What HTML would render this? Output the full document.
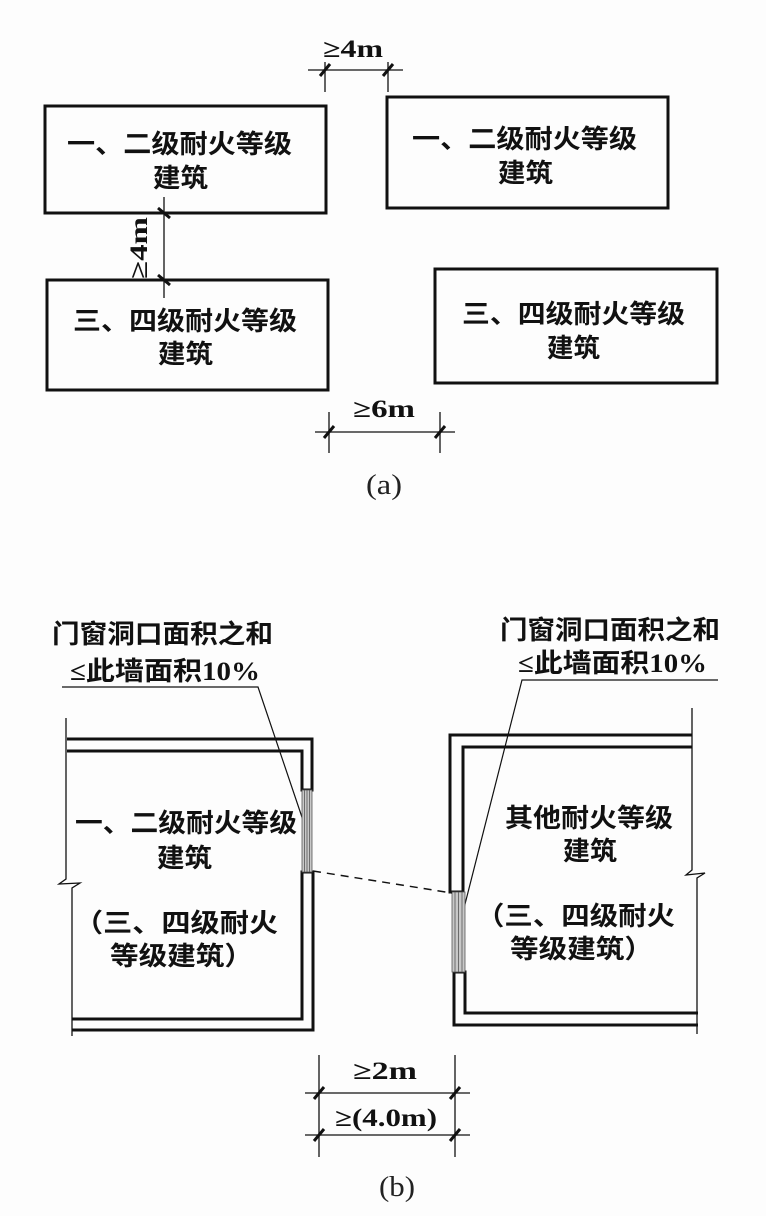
<!DOCTYPE html>
<html>
<head>
<meta charset="utf-8">
<style>
html,body{margin:0;padding:0;background:#fdfdfd;}
svg{display:block;}
.cj{font-family:"Liberation Sans","Noto Sans CJK SC",sans-serif;font-size:26px;font-weight:bold;fill:#111;}
.lb{font-family:"Liberation Serif","Noto Sans CJK SC",sans-serif;font-size:26px;font-weight:bold;fill:#111;}
.dm{font-family:"Liberation Serif","Noto Serif CJK SC",serif;font-size:25px;font-weight:bold;fill:#111;}
.cap{font-family:"Liberation Serif",serif;font-size:28px;fill:#222;}
</style>
</head>
<body>
<svg width="766" height="1216" viewBox="0 0 766 1216" xmlns="http://www.w3.org/2000/svg">
<g fill="none" stroke="#111">
  <!-- (a) boxes -->
  <rect x="45" y="106" width="281" height="107" stroke-width="3"/>
  <rect x="47" y="280" width="281" height="110" stroke-width="3"/>
  <rect x="387" y="97" width="281" height="111" stroke-width="3"/>
  <rect x="435" y="269" width="282" height="114" stroke-width="3"/>

  <!-- top dim -->
  <line x1="308" y1="70" x2="403" y2="70" stroke-width="1.3"/>
  <line x1="325" y1="62" x2="325" y2="92" stroke-width="1.3"/>
  <line x1="388" y1="62" x2="388" y2="92" stroke-width="1.3"/>
  <line x1="320" y1="76" x2="330" y2="64" stroke-width="3"/>
  <line x1="383" y1="76" x2="393" y2="64" stroke-width="3"/>

  <!-- vertical dim -->
  <line x1="164" y1="197" x2="164" y2="298" stroke-width="1.3"/>
  <line x1="158" y1="208" x2="170" y2="218" stroke-width="3"/>
  <line x1="158" y1="275" x2="170" y2="285" stroke-width="3"/>

  <!-- bottom dim (a) -->
  <line x1="315" y1="432" x2="455" y2="432" stroke-width="1.3"/>
  <line x1="329" y1="412" x2="329" y2="453" stroke-width="1.3"/>
  <line x1="440" y1="412" x2="440" y2="453" stroke-width="1.3"/>
  <line x1="324" y1="438" x2="334" y2="426" stroke-width="3"/>
  <line x1="435" y1="438" x2="445" y2="426" stroke-width="3"/>

  <!-- (b) leaders -->
  <polyline points="62,687 258,687 308,835" stroke-width="1.2"/>
  <polyline points="718,680 522,680 463,912" stroke-width="1.2"/>

  <!-- left building -->
  <path d="M67 739 H312 V790 H302 V751 H67" stroke-width="3"/>
  <path d="M72 1030 H313 V872 H302 V1019 H72" stroke-width="3"/>
  <path d="M66 718 V879 L59 884 L80 883 L72 888 V1036" stroke-width="1.3"/>
  <!-- left window -->
  <rect x="302" y="790" width="10" height="82" fill="#c8c8c8" stroke="#555" stroke-width="0.8"/>
  <line x1="304.5" y1="790" x2="304.5" y2="872" stroke="#555" stroke-width="0.8"/>
  <line x1="307" y1="790" x2="307" y2="872" stroke="#555" stroke-width="0.8"/>
  <line x1="309.5" y1="790" x2="309.5" y2="872" stroke="#555" stroke-width="0.8"/>

  <!-- right building -->
  <path d="M692 735 H450 V892 H463 V747 H692" stroke-width="3"/>
  <path d="M698 1025 H454 V972 H465 V1013 H698" stroke-width="3"/>
  <path d="M692 708 V870 L686 875 L705 873 L697 878 V1034" stroke-width="1.3"/>
  <!-- right window -->
  <rect x="452" y="892" width="13" height="80" fill="#c8c8c8" stroke="#555" stroke-width="0.8"/>
  <line x1="455" y1="892" x2="455" y2="972" stroke="#555" stroke-width="0.8"/>
  <line x1="458.5" y1="892" x2="458.5" y2="972" stroke="#555" stroke-width="0.8"/>
  <line x1="462" y1="892" x2="462" y2="972" stroke="#555" stroke-width="0.8"/>

  <!-- dashed connection -->
  <line x1="313" y1="871" x2="452" y2="893" stroke-width="1.5" stroke-dasharray="8 6"/>

  <!-- bottom dims (b) -->
  <line x1="319" y1="1055" x2="319" y2="1157" stroke-width="1.3"/>
  <line x1="455" y1="1055" x2="455" y2="1157" stroke-width="1.3"/>
  <line x1="305" y1="1093" x2="470" y2="1093" stroke-width="1.3"/>
  <line x1="305" y1="1135" x2="470" y2="1135" stroke-width="1.3"/>
  <line x1="314" y1="1099" x2="324" y2="1087" stroke-width="3"/>
  <line x1="450" y1="1099" x2="460" y2="1087" stroke-width="3"/>
  <line x1="314" y1="1141" x2="324" y2="1129" stroke-width="3"/>
  <line x1="450" y1="1141" x2="460" y2="1129" stroke-width="3"/>
</g>

<!-- (a) text -->
<text class="cj" x="67" y="153" textLength="225" lengthAdjust="spacingAndGlyphs">一、二级耐火等级</text>
<text class="cj" x="153" y="187" textLength="55" lengthAdjust="spacingAndGlyphs">建筑</text>
<text class="cj" x="73" y="330" textLength="224" lengthAdjust="spacingAndGlyphs">三、四级耐火等级</text>
<text class="cj" x="158" y="363" textLength="55" lengthAdjust="spacingAndGlyphs">建筑</text>
<text class="cj" x="412" y="148" textLength="225" lengthAdjust="spacingAndGlyphs">一、二级耐火等级</text>
<text class="cj" x="498" y="182" textLength="55" lengthAdjust="spacingAndGlyphs">建筑</text>
<text class="cj" x="462" y="323" textLength="223" lengthAdjust="spacingAndGlyphs">三、四级耐火等级</text>
<text class="cj" x="547" y="357" textLength="53" lengthAdjust="spacingAndGlyphs">建筑</text>

<text class="dm" x="323" y="57" textLength="60" lengthAdjust="spacingAndGlyphs">≥4m</text>
<g transform="translate(139,248) rotate(-90)">
  <text class="dm" x="-31" y="8" textLength="62" lengthAdjust="spacingAndGlyphs">≥4m</text>
</g>
<text class="dm" x="353" y="417" textLength="62" lengthAdjust="spacingAndGlyphs">≥6m</text>
<text class="cap" x="366" y="494" textLength="36" lengthAdjust="spacingAndGlyphs">(a)</text>

<!-- (b) labels -->
<text class="lb" x="52" y="643" textLength="221" lengthAdjust="spacingAndGlyphs">门窗洞口面积之和</text>
<text class="lb" x="70" y="680" textLength="190" lengthAdjust="spacingAndGlyphs">≤此墙面积10%</text>
<text class="lb" x="500" y="639" textLength="220" lengthAdjust="spacingAndGlyphs">门窗洞口面积之和</text>
<text class="lb" x="518" y="672" textLength="189" lengthAdjust="spacingAndGlyphs">≤此墙面积10%</text>

<!-- left building text -->
<text class="cj" x="75" y="832" textLength="222" lengthAdjust="spacingAndGlyphs">一、二级耐火等级</text>
<text class="cj" x="157" y="867" textLength="55" lengthAdjust="spacingAndGlyphs">建筑</text>
<text class="cj" x="74" y="932" textLength="204" lengthAdjust="spacingAndGlyphs">（三、四级耐火</text>
<text class="cj" x="110" y="965" textLength="143" lengthAdjust="spacingAndGlyphs">等级建筑）</text>

<!-- right building text -->
<text class="cj" x="505" y="827" textLength="168" lengthAdjust="spacingAndGlyphs">其他耐火等级</text>
<text class="cj" x="563" y="860" textLength="54" lengthAdjust="spacingAndGlyphs">建筑</text>
<text class="cj" x="476" y="925" textLength="199" lengthAdjust="spacingAndGlyphs">（三、四级耐火</text>
<text class="cj" x="510" y="958" textLength="143" lengthAdjust="spacingAndGlyphs">等级建筑）</text>

<!-- (b) dims -->
<text class="dm" x="353" y="1079" textLength="64" lengthAdjust="spacingAndGlyphs">≥2m</text>
<text class="dm" x="335" y="1126" textLength="102" lengthAdjust="spacingAndGlyphs">≥(4.0m)</text>
<text class="cap" x="379" y="1196" textLength="36" lengthAdjust="spacingAndGlyphs">(b)</text>
</svg>
</body>
</html>
